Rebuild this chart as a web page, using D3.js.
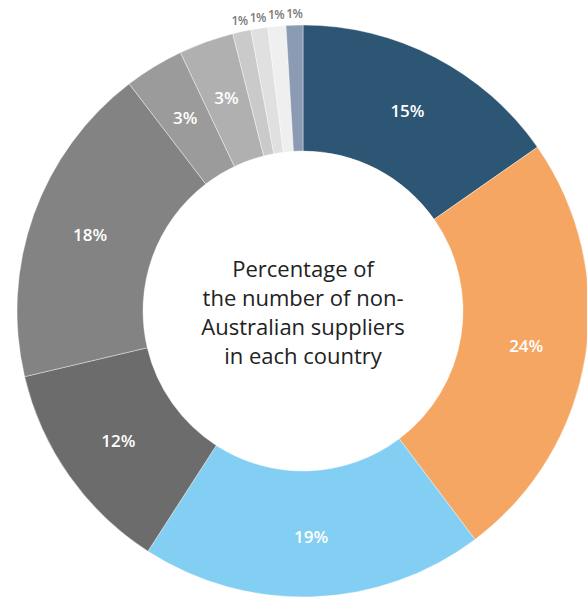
<!DOCTYPE html>
<html>
<head>
<meta charset="utf-8">
<script src="https://cdn.jsdelivr.net/npm/d3@7"></script>
<style>
  body { margin: 0; background: #fff; }
  svg { display: block; }
</style>
</head>
<body>
<div id="chart"></div>
<script>
// slices clockwise from 12 o'clock
const countries = ["A", "B", "C", "D", "E", "F", "G", "H", "I", "J", "K"];
const shares = [15.3, 24.45, 19.4, 12.2, 18.3, 3.35, 3.1, 1.03, 0.96, 1.01, 0.95];
const labels = ["15%", "24%", "19%", "12%", "18%", "3%", "3%", "1%", "1%", "1%", "1%"];
const colors = ["#2d5574", "#f5a663", "#82cff3", "#6c6c6c", "#838383", "#9b9b9b",
                "#b0b0b0", "#cacaca", "#e0e0e0", "#efefef", "#8c9bb4"];
const centerLines = ["Percentage of", "the number of non-", "Australian suppliers", "in each country"];

const width = 587;
const height = 598;
const cx = 303;
const cy = 311;
const outerR = 286;
const innerR = 160;

const svg = d3.select("#chart")
  .append("svg")
  .attr("width", width)
  .attr("height", height);

const g = svg.append("g").attr("transform", `translate(${cx},${cy})`);

const data = countries.map((c, i) => ({ name: c, value: shares[i], label: labels[i], color: colors[i] }));

const pie = d3.pie().value((d) => d.value).sort(null);
const arc = d3.arc().innerRadius(innerR).outerRadius(outerR);
const arcs = pie(data);

g.selectAll("path")
  .data(arcs)
  .enter()
  .append("path")
  .attr("d", arc)
  .attr("fill", (d) => d.data.color)
  .attr("stroke", "#fff")
  .attr("stroke-width", 0.4);

// labels inside big slices, small ones outside the ring
const labelArc = d3.arc().innerRadius(226).outerRadius(226);
const outsideArc = d3.arc().innerRadius(297).outerRadius(297);

g.selectAll("text.slice")
  .data(arcs)
  .enter()
  .append("text")
  .attr("class", "slice")
  .attr("transform", (d) => {
    const p = d.data.value > 2 ? labelArc.centroid(d) : outsideArc.centroid(d);
    return `translate(${p[0]},${p[1]})`;
  })
  .attr("text-anchor", "middle")
  .attr("dy", "0.35em")
  .style("font-family", "'Open Sans', sans-serif")
  .style("font-weight", 600)
  .style("font-size", (d) => (d.data.value > 2 ? "17px" : "12px"))
  .style("letter-spacing", (d) => (d.data.value > 2 ? "0px" : "-0.6px"))
  .attr("fill", (d) => (d.data.value > 2 ? "#fff" : "#7a7a7a"))
  .text((d) => d.data.label);

g.append("text")
  .attr("text-anchor", "middle")
  .style("font-family", "'Open Sans', sans-serif")
  .style("font-size", "22px")
  .attr("fill", "#222")
  .selectAll("tspan")
  .data(centerLines)
  .enter()
  .append("tspan")
  .attr("x", 0)
  .attr("y", (d, i) => -34 + i * 29)
  .text((d) => d);
</script>
</body>
</html>
